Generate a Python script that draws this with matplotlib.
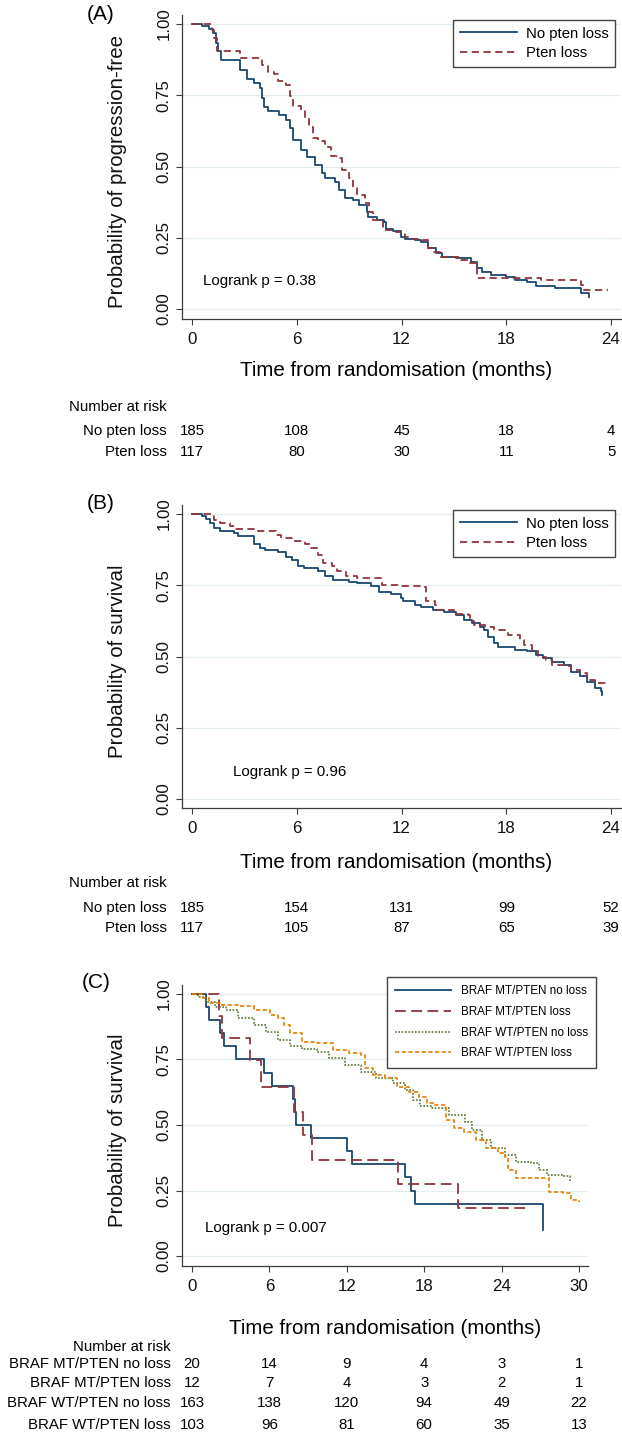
import matplotlib
matplotlib.use("Agg")
import matplotlib.pyplot as plt
from matplotlib.transforms import blended_transform_factory

plt.rcParams['font.family'] = ['Liberation Sans', 'DejaVu Sans']

W, H = 622, 1436
NAVY = '#1a476f'
MAROON = '#90353b'
GREEN = '#55752f'
ORANGE = '#e37e00'
GRID = '#e3ecef'
AXC = '#3c3c3c'

# ---- Panel A: progression-free survival ----
a_nopten_t = [0, 0.6, 1.0, 1.2, 1.4, 1.5, 1.66, 2.57, 2.75, 3.14, 3.55, 3.9, 4.0, 4.1, 4.35,
              5.0, 5.4, 5.6, 5.8, 6.27, 6.6, 7.07, 7.45, 7.64, 8.2, 8.43, 8.77, 9.2, 9.57,
              10.0, 10.1, 10.6, 11.0, 11.1, 11.5, 11.95, 12.2, 12.75, 13.1, 13.5, 14.0, 14.3,
              15.1, 16.0, 16.3, 16.6, 17.1, 18.0, 18.5, 19.2, 19.7, 20.8, 22.3, 22.6, 22.75]
a_nopten_s = [1.0, 0.994, 0.982, 0.968, 0.933, 0.904, 0.875, 0.875, 0.84, 0.807, 0.793, 0.775,
              0.74, 0.71, 0.693, 0.68, 0.664, 0.635, 0.594, 0.559, 0.535, 0.506, 0.477, 0.459,
              0.444, 0.418, 0.389, 0.383, 0.365, 0.342, 0.324, 0.313, 0.307, 0.28, 0.272,
              0.254, 0.246, 0.242, 0.234, 0.213, 0.196, 0.181, 0.178, 0.166, 0.143, 0.131,
              0.119, 0.114, 0.102, 0.093, 0.082, 0.073, 0.057, 0.055, 0.043]
a_pten_t = [0, 1.16, 1.27, 1.45, 2.64, 2.75, 3.66, 4.0, 4.35, 4.68, 4.9, 5.36, 5.6, 5.8, 6.27,
            6.5, 6.7, 6.95, 7.2, 7.64, 7.98, 8.43, 8.6, 9.0, 9.2, 9.45, 9.9, 10.14, 10.36,
            10.93, 11.7, 12.2, 12.6, 13.2, 13.5, 13.8, 14.2, 15.4, 15.9, 16.3, 20.0, 22.3,
            22.4, 23.8]
a_pten_s = [1.0, 0.98, 0.95, 0.907, 0.907, 0.88, 0.88, 0.857, 0.83, 0.826, 0.8, 0.787, 0.746,
            0.713, 0.699, 0.67, 0.64, 0.6, 0.588, 0.57, 0.537, 0.529, 0.488, 0.459, 0.424,
            0.40, 0.371, 0.342, 0.313, 0.278, 0.27, 0.254, 0.245, 0.242, 0.213, 0.201, 0.184,
            0.172, 0.16, 0.108, 0.10, 0.084, 0.067, 0.067]

# ---- Panel B: overall survival ----
b_nopten_t = [0, 0.6, 0.82, 1.05, 1.27, 1.6, 2.4, 2.64, 3.55, 3.9, 4.2, 4.9, 5.36, 5.7, 6.05,
              6.4, 7.2, 7.64, 8.1, 9.0, 9.45, 10.25, 10.7, 11.4, 11.95, 12.07, 12.75, 13.1,
              13.8, 14.45, 15.1, 15.6, 16.05, 16.5, 16.7, 16.95, 17.3, 17.5, 18.5, 19.2, 19.7,
              20.1, 20.6, 21.3, 21.7, 22.2, 22.6, 23.1, 23.4, 23.5]
b_nopten_s = [1.0, 0.992, 0.984, 0.968, 0.951, 0.939, 0.933, 0.924, 0.896, 0.881, 0.872, 0.865,
              0.849, 0.837, 0.816, 0.809, 0.799, 0.783, 0.769, 0.763, 0.758, 0.746, 0.728,
              0.72, 0.705, 0.693, 0.681, 0.673, 0.664, 0.655, 0.644, 0.629, 0.619, 0.605,
              0.594, 0.57, 0.547, 0.535, 0.523, 0.518, 0.506, 0.494, 0.482, 0.47, 0.447,
              0.432, 0.409, 0.389, 0.38, 0.365]
b_pten_t = [0, 1.27, 1.6, 2.2, 2.5, 3.55, 4.8, 5.1, 5.8, 6.5, 6.84, 7.2, 7.5, 8.0, 8.3, 8.8,
            9.45, 10.9, 11.95, 13.1, 13.4, 13.9, 14.0, 15.0, 15.8, 15.9, 16.16, 16.8, 17.3,
            17.9, 18.1, 18.8, 19.0, 19.45, 19.8, 20.25, 20.6, 21.3, 21.7, 22.2, 22.6, 23.1,
            23.66]
b_pten_s = [1.0, 0.98, 0.968, 0.959, 0.947, 0.941, 0.927, 0.916, 0.904, 0.896, 0.881, 0.857,
            0.828, 0.816, 0.799, 0.783, 0.775, 0.752, 0.746, 0.744, 0.693, 0.681, 0.664,
            0.649, 0.646, 0.623, 0.611, 0.605, 0.594, 0.582, 0.574, 0.559, 0.541, 0.518, 0.5,
            0.488, 0.47, 0.465, 0.453, 0.441, 0.418, 0.406, 0.40]

# ---- Panel C: survival by BRAF / PTEN ----
c_mt_no_t = [0, 1.07, 1.29, 2.2, 2.46, 3.38, 5.6, 6.23, 7.85, 7.95, 8.05, 9.2, 12.0, 12.4,
             16.5, 16.95, 17.3, 27.2]
c_mt_no_s = [1.0, 0.95, 0.90, 0.85, 0.80, 0.75, 0.70, 0.65, 0.60, 0.55, 0.50, 0.45, 0.40,
             0.35, 0.30, 0.25, 0.20, 0.10]
c_mt_loss_t = [0, 2.1, 2.3, 4.5, 5.37, 7.9, 8.57, 9.33, 16.0, 20.6, 26.2]
c_mt_loss_s = [1.0, 0.917, 0.833, 0.746, 0.646, 0.551, 0.462, 0.366, 0.275, 0.182, 0.182]
c_wt_no_t = [0, 0.5, 1.1, 1.75, 2.67, 3.6, 4.8, 5.7, 6.66, 7.6, 8.5, 9.7, 10.65, 11.9, 13.1,
             14.3, 15.6, 16.5, 17.1, 17.7, 18.6, 19.9, 21.2, 21.7, 22.5, 23.2, 24.3, 25.1,
             26.3, 26.9, 27.5, 28.8, 29.3]
c_wt_no_s = [1.0, 0.99, 0.97, 0.95, 0.94, 0.91, 0.88, 0.856, 0.824, 0.80, 0.79, 0.78, 0.754,
             0.729, 0.704, 0.678, 0.659, 0.634, 0.595, 0.574, 0.564, 0.538, 0.513, 0.481,
             0.443, 0.411, 0.386, 0.36, 0.354, 0.328, 0.309, 0.305, 0.284]
c_wt_loss_t = [0, 0.83, 1.3, 2.36, 3.6, 4.8, 6.05, 6.66, 7.1, 7.6, 8.5, 9.43, 10.96, 12.2,
               13.1, 13.4, 14.0, 14.95, 15.9, 16.8, 17.6, 18.2, 18.8, 19.7, 20.3, 21.1, 22.0,
               22.8, 23.7, 24.3, 24.5, 25.1, 27.7, 28.8, 29.4, 30.0]
c_wt_loss_s = [1.0, 0.983, 0.964, 0.958, 0.952, 0.939, 0.92, 0.907, 0.882, 0.85, 0.818,
               0.812, 0.786, 0.774, 0.767, 0.716, 0.691, 0.678, 0.646, 0.627, 0.608, 0.583,
               0.576, 0.519, 0.487, 0.475, 0.443, 0.411, 0.392, 0.379, 0.328, 0.296, 0.246,
               0.239, 0.214, 0.207]

ab_ticks = [0, 6, 12, 18, 24]
c_ticks = [0, 6, 12, 18, 24, 30]
ab_groups = ['No pten loss', 'Pten loss']
c_groups = ['BRAF MT/PTEN no loss', 'BRAF MT/PTEN loss', 'BRAF WT/PTEN no loss', 'BRAF WT/PTEN loss']
a_risk = [[185, 108, 45, 18, 4], [117, 80, 30, 11, 5]]
b_risk = [[185, 154, 131, 99, 52], [117, 105, 87, 65, 39]]
c_risk = [[20, 14, 9, 4, 3, 1], [12, 7, 4, 3, 2, 1], [163, 138, 120, 94, 49, 22], [103, 96, 81, 60, 35, 13]]


fig = plt.figure(figsize=(W / 100, H / 100), dpi=100)


def fx(px):
    return px / W


def fy(py):
    return 1 - py / H


def km_axes(left, top, right, bottom, xlim, ylim, ticks, ylabel):
    ax = fig.add_axes([fx(left), fy(bottom), (right - left) / W, (bottom - top) / H])
    ax.set_xlim(*xlim)
    ax.set_ylim(*ylim)
    ax.set_xticks(ticks)
    ax.set_yticks([0, 0.25, 0.5, 0.75, 1.0])
    ax.set_yticklabels(['0.00', '0.25', '0.50', '0.75', '1.00'], rotation=90, va='center')
    ax.tick_params(axis='both', labelsize=12.2, length=4.3, width=0.8, color=AXC, labelcolor='#111111')
    ax.tick_params(axis='y', pad=3)
    ax.tick_params(axis='x', pad=5)
    ax.grid(axis='y', color=GRID, lw=0.9)
    ax.set_axisbelow(True)
    for s in ['top', 'right']:
        ax.spines[s].set_visible(False)
    for s in ['left', 'bottom']:
        ax.spines[s].set_color(AXC)
        ax.spines[s].set_linewidth(0.9)
    ax.set_ylabel(ylabel, fontsize=14.8, color='#111111')
    ax.yaxis.set_label_coords(fx(127), fy((top + bottom) / 2 + 5), transform=fig.transFigure)
    return ax


def risk_table(ax, ticks, groups, risk, label_right, y_head, y_rows):
    tr = blended_transform_factory(ax.transData, fig.transFigure)
    fig.text(fx(label_right), fy(y_head), 'Number at risk', ha='right', va='center', fontsize=10.8)
    for g, row, yy in zip(groups, risk, y_rows):
        fig.text(fx(label_right), fy(yy), g, ha='right', va='center', fontsize=10.8)
        for t, n in zip(ticks, row):
            ax.text(t, fy(yy), str(n), transform=tr, ha='center', va='center', fontsize=10.8)


def km_legend(ax, right, top, size, hlen, hpad, lspace, bpad):
    ax.legend(loc='upper right', bbox_to_anchor=(fx(right), fy(top)), bbox_transform=fig.transFigure,
              fontsize=size, frameon=True, fancybox=False, edgecolor='#444444', framealpha=1,
              handlelength=hlen, handletextpad=hpad, labelspacing=lspace, borderpad=bpad,
              borderaxespad=0)


# ---- Panel A ----
axA = km_axes(182, 15, 621, 319, (-0.573, 24.57), (-0.0351, 1.0316), ab_ticks,
              'Probability of progression-free')
axA.step(a_nopten_t, a_nopten_s, where='post', color=NAVY, lw=1.3, label='No pten loss')
axA.step(a_pten_t, a_pten_s, where='post', color=MAROON, lw=1.3, dashes=(4, 2.5), label='Pten loss')
fig.text(fx(101), fy(14), '(A)', ha='center', va='center', fontsize=15)
fig.text(fx(396), fy(371), 'Time from randomisation (months)', ha='center', va='center', fontsize=14.8)
risk_table(axA, ab_ticks, ab_groups, a_risk, 167, 407, [431, 452])
km_legend(axA, 615, 20, 10.7, 3.8, 0.6, 0.35, 0.45)

# ---- Panel B ----
axB = km_axes(182, 505, 621, 808, (-0.573, 24.57), (-0.0316, 1.0316), ab_ticks,
              'Probability of survival')
axB.step(b_nopten_t, b_nopten_s, where='post', color=NAVY, lw=1.3, label='No pten loss')
axB.step(b_pten_t, b_pten_s, where='post', color=MAROON, lw=1.3, dashes=(4, 2.5), label='Pten loss')
fig.text(fx(396), fy(862), 'Time from randomisation (months)', ha='center', va='center', fontsize=14.8)
fig.text(fx(101), fy(503), '(B)', ha='center', va='center', fontsize=15)
risk_table(axB, ab_ticks, ab_groups, b_risk, 167, 883, [908, 928])
km_legend(axB, 615, 510, 10.7, 3.8, 0.6, 0.35, 0.45)

# ---- Panel C ----
axC = km_axes(182, 985, 588, 1266, (-0.775, 30.7), (-0.038, 1.034), c_ticks,
              'Probability of survival')
axC.step(c_mt_no_t, c_mt_no_s, where='post', color=NAVY, lw=1.3, label=c_groups[0])
axC.step(c_mt_loss_t, c_mt_loss_s, where='post', color=MAROON, lw=1.3, dashes=(6, 3), label=c_groups[1])
axC.step(c_wt_no_t, c_wt_no_s, where='post', color=GREEN, lw=1.2, dashes=(1, 1), label=c_groups[2])
axC.step(c_wt_loss_t, c_wt_loss_s, where='post', color=ORANGE, lw=1.2, dashes=(2.5, 1.5), label=c_groups[3])
fig.text(fx(385), fy(1328), 'Time from randomisation (months)', ha='center', va='center', fontsize=14.8)
fig.text(fx(96), fy(982), '(C)', ha='center', va='center', fontsize=15)
risk_table(axC, c_ticks, c_groups, c_risk, 171, 1347, [1364, 1383, 1403, 1425])
km_legend(axC, 596, 977, 8.4, 4.8, 0.85, 0.75, 0.7)

# logrank annotations
fig.text(fx(203), fy(281), 'Logrank p = 0.38', va='center', fontsize=10.8)
fig.text(fx(233), fy(772), 'Logrank p = 0.96', va='center', fontsize=10.8)
fig.text(fx(205), fy(1228), 'Logrank p = 0.007', va='center', fontsize=10.8)

fig.savefig('out.png', dpi=100, facecolor='white')
